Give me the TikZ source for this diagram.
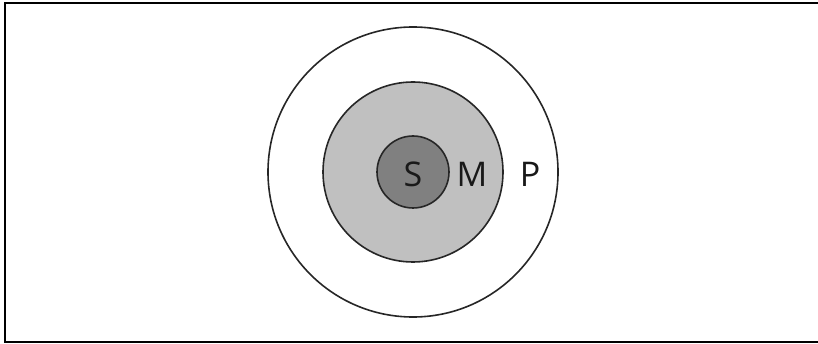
\documentclass[tikz,border=0pt]{standalone}
\usepackage{fontspec}
\setmainfont{Open Sans}
\definecolor{midgray}{HTML}{C0C0C0}
\definecolor{darkgray}{HTML}{808080}
\tikzset{ring/.style={draw=black!85, line width=1.6pt},
         lbl/.style={font=\fontsize{34}{40}\selectfont, text=black!90, inner sep=0pt}}
\begin{document}
\begin{tikzpicture}[x=1pt,y=-1pt]
\useasboundingbox (0,0) rectangle (818,344);
\begin{scope}
\clip (0,0) rectangle (818,344);
\draw[line width=2pt] (5,3) rectangle (822,342);
\end{scope}
\node[ring, circle, minimum size=290pt, inner sep=0pt] (P) at (413,172) {};
\node[ring, circle, fill=midgray, minimum size=180pt, inner sep=0pt] (M) at (413,172) {};
\node[ring, circle, fill=darkgray, minimum size=72pt, inner sep=0pt] (S) at (413,172) {};
\node[lbl] (s) at (413,174) {S};
\node[lbl] (m) at (472,174) {M};
\node[lbl] (p) at (530,174) {P};
\end{tikzpicture}
\end{document}
